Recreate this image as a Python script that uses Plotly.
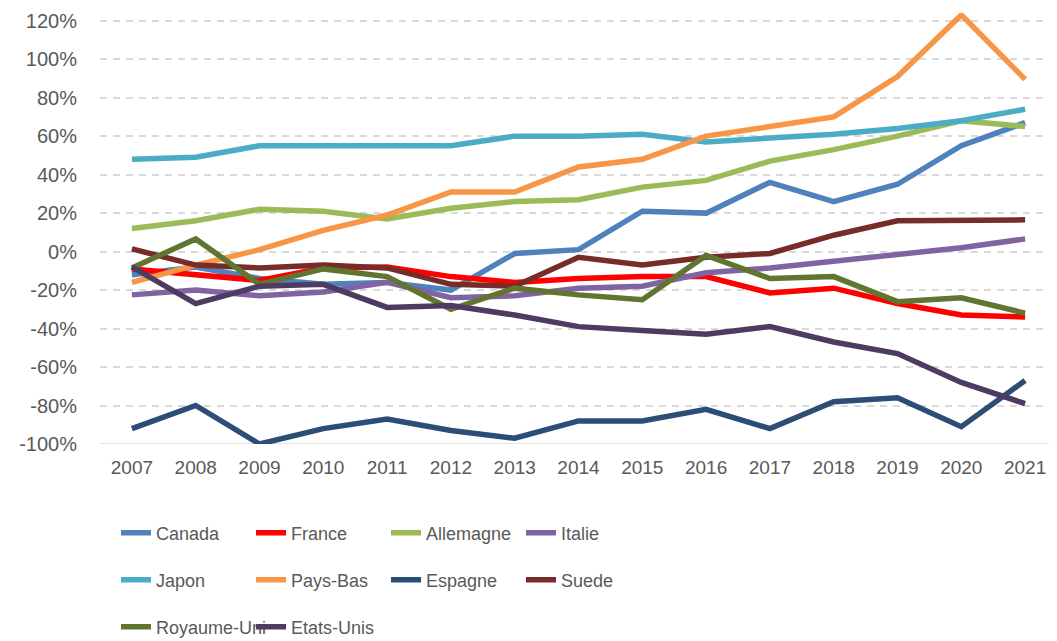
import plotly.graph_objects as go

years = list(range(2007, 2022))

canada     = [-12, -8, -14, -17, -16, -20, -1, 1, 21, 20, 36, 26, 35, 55, 67]
france     = [-9, -12, -15, -8.5, -8, -13, -16, -14, -13, -13, -21.5, -19, -27, -33, -34]
allemagne  = [12, 16, 22, 21, 17, 22.5, 26, 27, 33.5, 37, 47, 53, 60, 68, 65]
italie     = [-22.5, -20, -23, -21, -16, -24, -23, -19, -18, -11, -8.5, -5, -2, 2, 6.6]
japon      = [48, 49, 55, 55, 55, 55, 60, 60, 61, 57, 59, 61, 64, 68, 74]
pays_bas   = [-16, -7, 1, 11, 19, 31, 31, 44, 48, 60, 65, 70, 91, 123, 89.5]
espagne    = [-92, -80, -100, -92, -87, -93, -97, -88, -88, -82, -92, -78, -76, -91, -67]
suede      = [1.4, -7, -8.5, -7, -8.5, -17, -18, -3, -7, -3, -1, 8.5, 16, 16.5, 16.5]
royaume_uni= [-8.5, 6.6, -17, -9, -13, -30, -19, -22.5, -25, -2, -14, -13, -26, -24, -32]
etats_unis = [-8, -27, -18, -17, -29, -28, -33, -39, -41, -43, -39, -47, -53, -68, -79]

series = [
    ("Canada", canada, "#4F81BD", "legend"),
    ("France", france, "#FF0000", "legend"),
    ("Allemagne", allemagne, "#9BBB59", "legend"),
    ("Italie", italie, "#8064A2", "legend"),
    ("Japon", japon, "#4BACC6", "legend2"),
    ("Pays-Bas", pays_bas, "#F79646", "legend2"),
    ("Espagne", espagne, "#2C4D75", "legend2"),
    ("Suede", suede, "#772C2A", "legend2"),
    ("Royaume-Uni", royaume_uni, "#5F7530", "legend3"),
    ("Etats-Unis", etats_unis, "#4D3B62", "legend3"),
]

y_ticks = list(range(-100, 121, 20))
y_labels = [f"{v}%" for v in y_ticks]

fig = go.Figure()
for name, vals, color, lg in series:
    fig.add_trace(go.Scatter(
        x=years, y=vals, name=name, mode="lines",
        line=dict(color=color, width=5.5),
        legend=lg,
    ))

font_family = "Liberation Sans, Arial, sans-serif"
legend_common = dict(
    orientation="h", xanchor="left", yanchor="middle",
    xref="container", yref="container",
    entrywidth=90, entrywidthmode="pixels",
    font=dict(family=font_family, size=18, color="#595959"),
    bgcolor="rgba(0,0,0,0)", itemwidth=30, traceorder="normal",
)

# page is offset by the 8px default body margin; compensate in the margins
fig.update_layout(
    width=1057, height=641,
    margin=dict(l=92, r=8, t=5, b=205),
    plot_bgcolor="white", paper_bgcolor="white",
    font=dict(family=font_family, size=20, color="#595959"),
    showlegend=True,
    legend=dict(x=108 / 1057, y=1 - 525 / 641, **legend_common),
    legend2=dict(x=108 / 1057, y=1 - 572 / 641, **legend_common),
    legend3=dict(x=108 / 1057, y=1 - 619 / 641, **legend_common),
    xaxis=dict(
        range=[2006.5, 2021.5], tickmode="array", tickvals=years,
        ticktext=[str(y) for y in years], showgrid=False, zeroline=False,
        showline=False, ticks="", ticklabelstandoff=10, automargin=False,
        tickfont=dict(family=font_family, size=19, color="#595959"),
    ),
    yaxis=dict(
        range=[-100, 124], tickmode="array", tickvals=y_ticks, ticktext=y_labels,
        showgrid=True, gridcolor="#D9D9D9", gridwidth=1.5, griddash="7px,6px",
        zeroline=False, showline=False, ticks="", ticklabelstandoff=22, automargin=False,
        tickfont=dict(family=font_family, size=20, color="#595959"),
    ),
    shapes=[dict(type="line", xref="paper", yref="y", x0=0, x1=1, y0=-100, y1=-100,
                 line=dict(color="#D9D9D9", width=1.5), layer="below")],
)

fig.write_html("out.html")
